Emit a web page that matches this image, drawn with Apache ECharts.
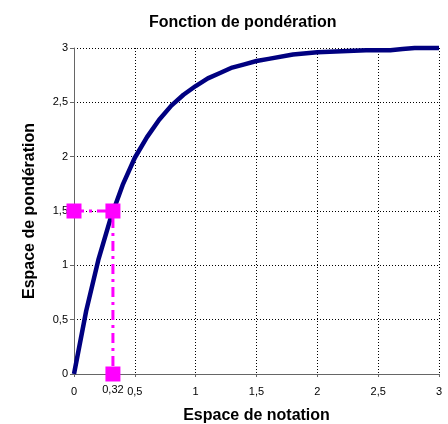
<!DOCTYPE html>
<html>
<head>
<meta charset="utf-8">
<script src="https://cdn.jsdelivr.net/npm/echarts@6/dist/echarts.min.js"></script>
<style>html,body{margin:0;padding:0;background:#fff}#c{width:448px;height:424px}</style>
</head>
<body>
<div id="c"></div>
<script>
const titleText = "Fonction de pondération";
const xName = "Espace de notation";
const yName = "Espace de pondération";
const curveX = [0, 0.1, 0.2, 0.3, 0.4, 0.5, 0.6, 0.7, 0.8, 0.9, 1.0, 1.1, 1.2, 1.3, 1.4, 1.5, 1.6, 1.8, 2.0, 2.2, 2.4, 2.6, 2.7, 2.8, 3.0];
const curveY = [0, 0.58, 1.05, 1.43, 1.74, 1.99, 2.18, 2.34, 2.47, 2.57, 2.65, 2.72, 2.77, 2.82, 2.85, 2.88, 2.90, 2.94, 2.96, 2.97, 2.98, 2.98, 2.99, 3.0, 3.0];
const markX = [0, 0.32, 0.32];
const markY = [1.5, 1.5, 0];
const markLabel = "0,32";

const fmt = v => String(v).replace('.', ',');
const chart = echarts.init(document.getElementById('c'));
const font = 'Arial, "Liberation Sans", sans-serif';
chart.setOption({
  animation: false,
  backgroundColor: '#fff',
  title: {
    text: titleText, left: 144, top: 10,
    textStyle: { fontFamily: font, fontSize: 16, fontWeight: 'bold', color: '#000' }
  },
  grid: { left: 74, right: 9, top: 48, bottom: 50, outerBoundsMode: 'none' },
  xAxis: {
    type: 'value', min: 0, max: 3, interval: 0.5,
    name: xName, nameLocation: 'middle', nameGap: 34,
    nameTextStyle: { fontFamily: font, fontSize: 16, fontWeight: 'bold', color: '#000' },
    axisLine: { lineStyle: { color: '#666', width: 1 } },
    axisTick: { show: true, length: 3, lineStyle: { color: '#666' } },
    axisLabel: { formatter: fmt, fontFamily: font, fontSize: 11, color: '#000', margin: 12 },
    splitLine: { show: true, lineStyle: { color: '#000', type: [1, 2], width: 1 } }
  },
  yAxis: {
    type: 'value', min: 0, max: 3, interval: 0.5,
    name: yName, nameLocation: 'middle', nameGap: 36, nameRotate: 90,
    nameTextStyle: { fontFamily: font, fontSize: 16, fontWeight: 'bold', color: '#000' },
    axisLine: { show: true, lineStyle: { color: '#666', width: 1 } },
    axisTick: { show: true, length: 4, lineStyle: { color: '#666' } },
    axisLabel: { formatter: fmt, fontFamily: font, fontSize: 11, color: '#000', margin: 6 },
    splitLine: { show: true, lineStyle: { color: '#000', type: [1, 2], width: 1 } }
  },
  series: [
    {
      type: 'line', data: curveX.map((x, i) => [x, curveY[i]]),
      showSymbol: false, smooth: false, clip: false,
      lineStyle: { color: '#000080', width: 4.5 }, z: 2
    },
    {
      type: 'line', data: markX.map((x, i) => [x, markY[i]]),
      symbol: 'rect', symbolSize: 15, clip: false,
      itemStyle: { color: '#ff00ff' },
      lineStyle: { color: '#ff00ff', width: 3, type: [10, 5, 3, 5] },
      label: {
        show: true, position: 'bottom', distance: 3,
        fontFamily: font, fontSize: 11, color: '#000',
        formatter: p => (p.dataIndex === 2 ? markLabel : '')
      },
      z: 3
    }
  ]
});
</script>
</body>
</html>
